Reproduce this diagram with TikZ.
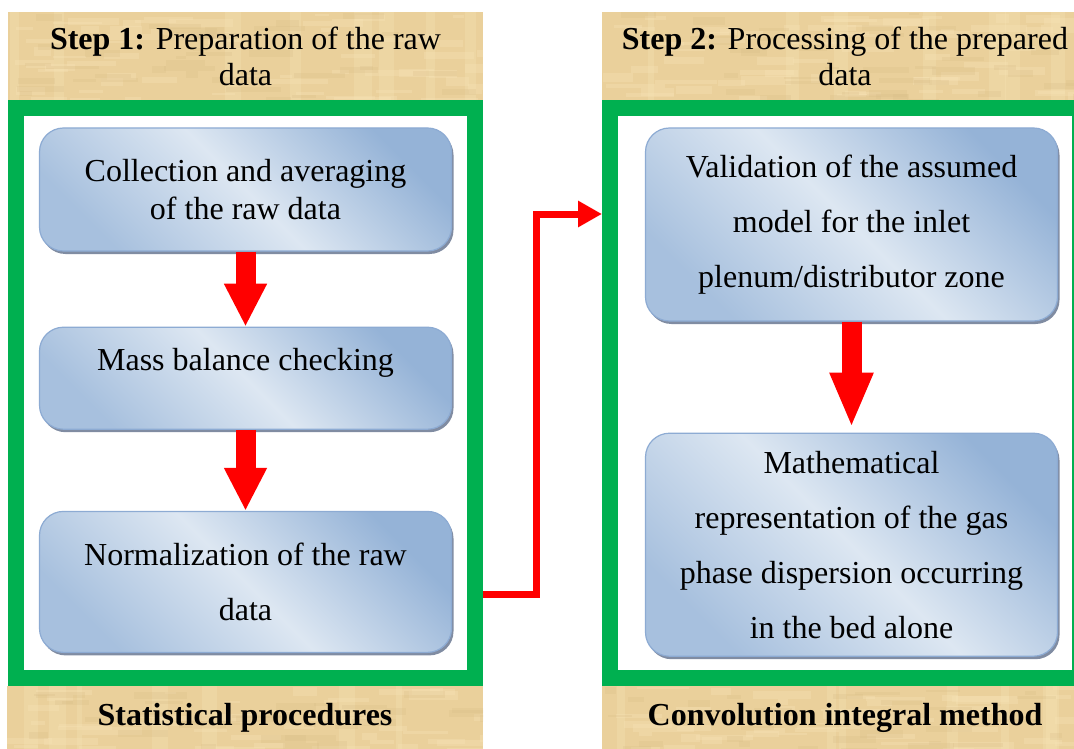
\documentclass[tikz,border=0pt]{standalone}
\usepackage{fontspec}
\setmainfont{Liberation Serif}
\usetikzlibrary{positioning,calc,shadows,arrows.meta}

\definecolor{framegreen}{RGB}{0,176,80}
\definecolor{parch}{RGB}{234,208,155}
\definecolor{parchhi}{RGB}{247,228,182}
\definecolor{parchlo}{RGB}{214,186,132}
\definecolor{bxdark}{RGB}{149,179,215}
\definecolor{bxlight}{RGB}{221,231,242}
\definecolor{bxborder}{RGB}{141,171,211}
\definecolor{bxshadow}{RGB}{128,140,162}

\tikzset{
	% parchment look of the step and method bands
	parchtex/.style={path picture={
		\foreach \k in {1,...,8}
			\fill[parchhi,opacity=.3] ([shift={(rnd*490,0)}]path picture bounding box.north west) rectangle ++(5+rnd*14,90);
		\foreach \k in {1,...,70}
			\fill[parchhi,opacity=.35] ([shift={(rnd*490,rnd*90)}]path picture bounding box.north west) rectangle ++(10+rnd*55,2+rnd*7);
		\foreach \k in {1,...,45}
			\fill[parchlo,opacity=.22] ([shift={(rnd*490,rnd*90)}]path picture bounding box.north west) rectangle ++(10+rnd*45,2+rnd*6);
	}},
	stephead/.style={rectangle, fill=parch, parchtex, inner sep=0pt,
		minimum height=88pt, align=center,
		font=\fontsize{32}{36}\selectfont},
	methodfoot/.style={stephead, minimum height=63pt,
		font=\fontsize{32}{38}\selectfont\bfseries},
	% green frame round each step
	greenframe/.style={rectangle, draw=framegreen, line width=16pt,
		fill=white, inner sep=0pt, minimum height=570pt},
	procbox/.style={rectangle, rounded corners=24pt,
		draw=bxborder, line width=1.2pt,
		top color=bxdark, bottom color=bxdark!75!bxlight,
		middle color=bxlight, shading angle=-45,
		drop shadow={shadow xshift=2pt, shadow yshift=-3pt,
			fill=bxshadow, opacity=1},
		minimum width=412pt, inner sep=6pt, align=center,
		font=\fontsize{32}{38}\selectfont},
	widebox/.style={procbox, font=\fontsize{32}{55}\selectfont},
	% Define arrow styles
	downpil/.style={red, line width=20pt,
		-{Triangle[length=#1, width=40pt]}},
	downpil/.default=43pt,
	linkpil/.style={red, line width=7pt, line join=miter,
		-{Triangle[length=24pt, width=25pt]}}
}

\begin{document}
\begin{tikzpicture}[x=1pt, y=-1pt]
	\pgfmathsetseed{31}
	\useasboundingbox (0,0) rectangle (1074,749);
	% frames
	\node[greenframe, minimum width=459pt] (leftframe) at (245.5,393) {};
	\node[greenframe, minimum width=470pt] (rightframe) at (845,393) {};
	% step titles and method names
	\node[stephead, minimum width=475pt] (step1) at (245.5,56) {\textbf{Step 1:} Preparation of the raw\\data};
	\node[stephead, minimum width=486pt] (step2) at (845,56) {\textbf{Step 2:} Processing of the prepared\\data};
	\node[methodfoot, minimum width=476pt] (stat) at (245,717.5) {Statistical procedures};
	\node[methodfoot, minimum width=486pt] (conv) at (845,717.5) {Convolution integral method};
	% step 1
	\node[procbox, minimum height=123pt] (collect) at (245.5,189.5) {Collection and averaging\\of the raw data};
	\node[procbox, minimum height=102pt, text depth=37pt, below=75pt of collect] (balance) {Mass balance checking};
	\node[widebox, minimum height=141pt, below=81pt of balance] (normal) {Normalization of the raw\\data};
	% step 2
	\node[widebox, minimum height=193pt] (valid) at (851.5,224.5) {Validation of the assumed\\model for the inlet\\plenum/distributor zone};
	\node[widebox, minimum height=223pt, below=111pt of valid] (mathrep) {Mathematical\\representation of the gas\\phase dispersion occurring\\in the bed alone};
	\draw[downpil] (collect) -- (balance);
	\draw[downpil] (balance) -- (normal);
	\draw[downpil=55pt, shorten >=5pt] (valid) -- (mathrep);
	\draw[linkpil] ($(leftframe.east)+(0,201)$) -- ++(53,0) |- ($(rightframe.west)+(0,-179)$);
\end{tikzpicture}
\end{document}
